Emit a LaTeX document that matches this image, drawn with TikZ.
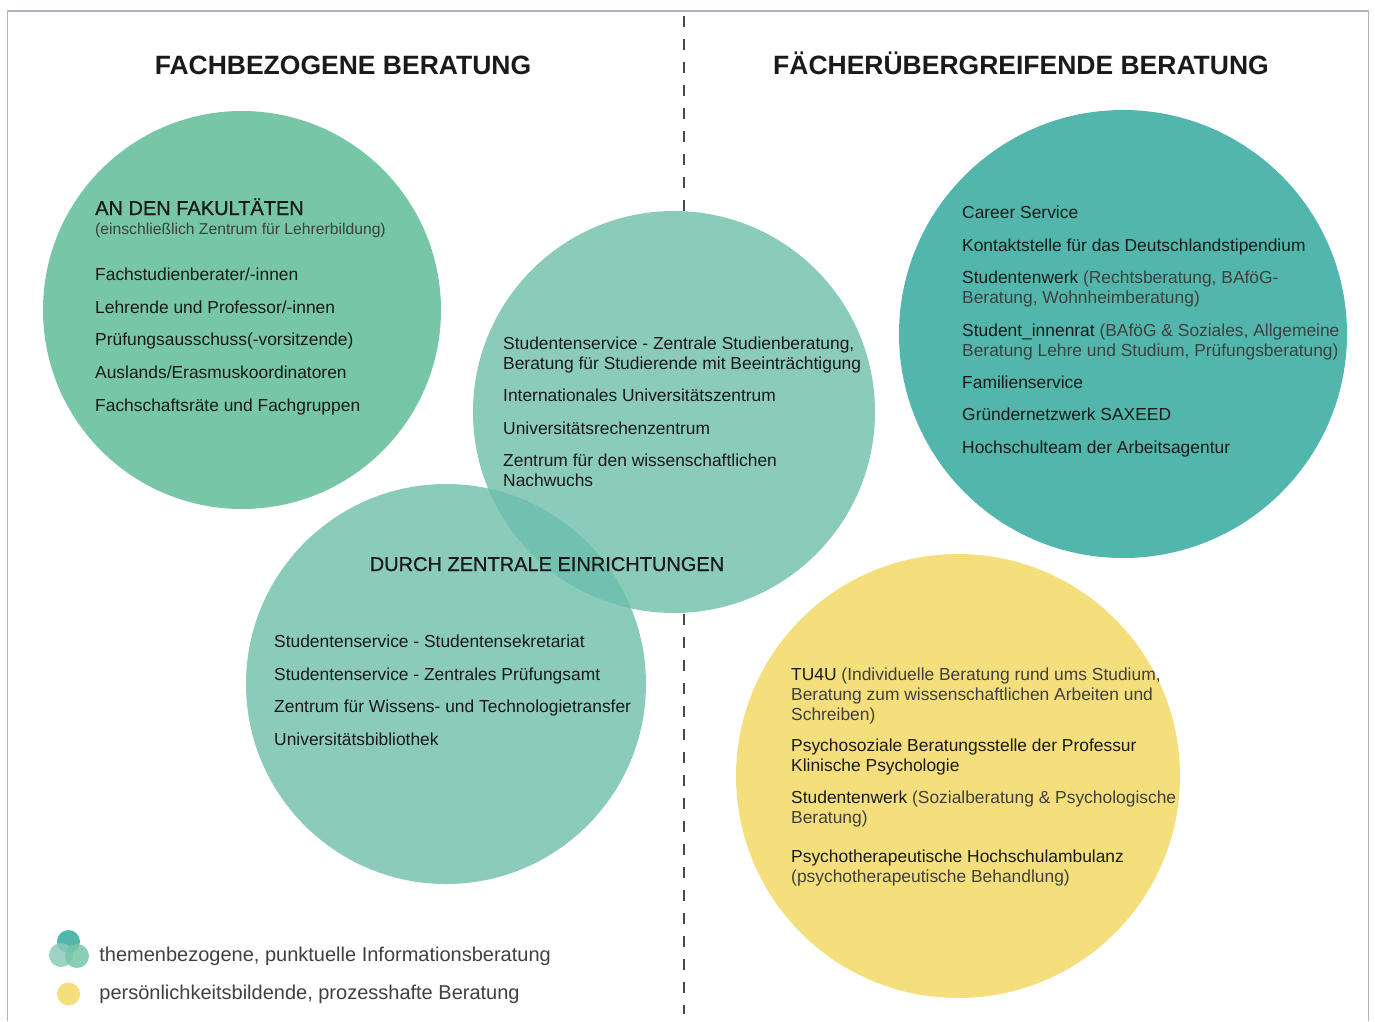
\documentclass[tikz,border=0pt]{standalone}
\usepackage{fontspec}
\setmainfont{Liberation Sans}
\newfontfamily\mediumfont{Liberation Sans}[FakeBold=0.7]
\usetikzlibrary{positioning}
\definecolor{BeratInk}{HTML}{1A1A1A}
\definecolor{BeratLight}{HTML}{404040}
\definecolor{BeratFrame}{HTML}{A9B4BE}
\definecolor{BeratDash}{HTML}{4A4A4A}
\definecolor{BeratGreen}{HTML}{76C6A7}
\definecolor{BeratMint}{HTML}{8BCBBA}
\definecolor{BeratMintDark}{HTML}{72C0AF}
\definecolor{BeratTeal}{HTML}{53B6AD}
\definecolor{BeratYellow}{HTML}{F4DF7C}
\newcommand{\lighttext}[1]{\textcolor{BeratLight}{#1}}

\begin{document}
\begin{tikzpicture}[
  x=1pt,y=-1pt,
  bubble/.style={circle,inner sep=0pt,draw=none},
  head/.style={font=\fontsize{26.5}{30}\selectfont\bfseries,text=BeratInk,anchor=base},
  group/.style={font=\fontsize{20}{24}\selectfont\mediumfont,text=BeratInk,inner sep=0pt},
  sub/.style={font=\fontsize{15.7}{18}\selectfont,text=BeratLight,anchor=base west,inner sep=0pt},
  item/.style={font=\fontsize{17.4}{20}\selectfont,text=BeratInk,anchor=base west,align=left,inner sep=0pt},
  divider/.style={draw=BeratDash,line width=2.4pt,dash pattern=on 11pt off 12pt},
  legend/.style={font=\fontsize{20}{22}\selectfont,text=BeratLight,inner sep=0pt},
  dot/.style={circle,inner sep=0pt,draw=none}
]
\useasboundingbox (0,0) rectangle (1375,1021);
\draw[BeratFrame,line width=1.2pt] (7.5,1021) -- (7.5,11) -- (1368.5,11) -- (1368.5,1021);
\coordinate (divtop) at (684,16);
\coordinate (divbot) at (684,1014);
\draw[divider] (divtop) -- (divbot);

\node[head] (titleL) at (343,74) {FACHBEZOGENE BERATUNG};
\node[head] (titleR) at (1021,74) {FÄCHERÜBERGREIFENDE BERATUNG};

\node[bubble,fill=BeratGreen,minimum size=398pt] (fak) at (242,310) {};
\node[bubble,fill=BeratMint,minimum size=402pt] (zentA) at (674,412) {};
\node[bubble,fill=BeratMint,minimum size=400pt] (zentB) at (446,684) {};
\begin{scope}
  \clip (674,412) circle (201pt);
  \fill[BeratMintDark] (446,684) circle (200pt);
\end{scope}
\node[bubble,fill=BeratTeal,minimum size=448pt] (quer) at (1123,334) {};
\node[bubble,fill=BeratYellow,minimum size=444pt] (pers) at (958,776) {};

\node[group,anchor=base west] (fakhead) at (95,215) {AN DEN FAKULTÄTEN};
\node[sub] (faksub) at (95,234) {(einschließlich Zentrum für Lehrerbildung)};
\node[item] (fak1) at (95,280) {Fachstudienberater/-innen};
\node[item] (fak2) at (95,313) {Lehrende und Professor/-innen};
\node[item] (fak3) at (95,345) {Prüfungsausschuss(-vorsitzende)};
\node[item] (fak4) at (95,378) {Auslands/Erasmuskoordinatoren};
\node[item] (fak5) at (95,411) {Fachschaftsräte und Fachgruppen};

\node[item] (zentA1) at (503,369) {Studentenservice - Zentrale Studienberatung,\\Beratung für Studierende mit Beeinträchtigung};
\node[item] (zentA2) at (503,401) {Internationales Universitätszentrum};
\node[item] (zentA3) at (503,434) {Universitätsrechenzentrum};
\node[item] (zentA4) at (503,486) {Zentrum für den wissenschaftlichen\\Nachwuchs};

\node[group,anchor=base] (zenthead) at (547,571) {DURCH ZENTRALE EINRICHTUNGEN};
\node[item] (zentB1) at (274,647) {Studentenservice - Studentensekretariat};
\node[item] (zentB2) at (274,680) {Studentenservice - Zentrales Prüfungsamt};
\node[item] (zentB3) at (274,712) {Zentrum für Wissens- und Technologietransfer};
\node[item] (zentB4) at (274,745) {Universitätsbibliothek};

\node[item] (quer1) at (962,218) {Career Service};
\node[item] (quer2) at (962,251) {Kontaktstelle für das Deutschlandstipendium};
\node[item] (quer3) at (962,303) {Studentenwerk \lighttext{(Rechtsberatung, BAföG-}\\\lighttext{Beratung, Wohnheimberatung)}};
\node[item] (quer4) at (962,356) {Student\_innenrat \lighttext{(BAföG \& Soziales, Allgemeine}\\\lighttext{Beratung Lehre und Studium, Prüfungsberatung)}};
\node[item] (quer5) at (962,388) {Familienservice};
\node[item] (quer6) at (962,420) {Gründernetzwerk SAXEED};
\node[item] (quer7) at (962,453) {Hochschulteam der Arbeitsagentur};

\node[item] (pers1) at (791,720) {TU4U \lighttext{(Individuelle Beratung rund ums Studium,}\\\lighttext{Beratung zum wissenschaftlichen Arbeiten und}\\\lighttext{Schreiben)}};
\node[item] (pers2) at (791,771) {Psychosoziale Beratungsstelle der Professur\\Klinische Psychologie};
\node[item] (pers3) at (791,823) {Studentenwerk \lighttext{(Sozialberatung \& Psychologische}\\\lighttext{Beratung)}};
\node[item] (pers4) at (791,882) {Psychotherapeutische Hochschulambulanz\\\lighttext{(psychotherapeutische Behandlung)}};

\node[dot,fill=BeratTeal,minimum size=23pt] (lgTop) at (68.5,941.5) {};
\node[dot,fill=BeratMint,fill opacity=0.85,minimum size=24pt] (lgLeft) at (61,955) {};
\node[dot,fill=BeratGreen,fill opacity=0.85,minimum size=24pt] (lgRight) at (77,956) {};
\node[dot,fill=BeratYellow,minimum size=23pt] (lgPers) at (68.5,994) {};
\node[legend,right=10pt of lgRight] (lgText1) {themenbezogene, punktuelle Informationsberatung};
\node[legend,right=19pt of lgPers] (lgText2) {persönlichkeitsbildende, prozesshafte Beratung};
\end{tikzpicture}
\end{document}
